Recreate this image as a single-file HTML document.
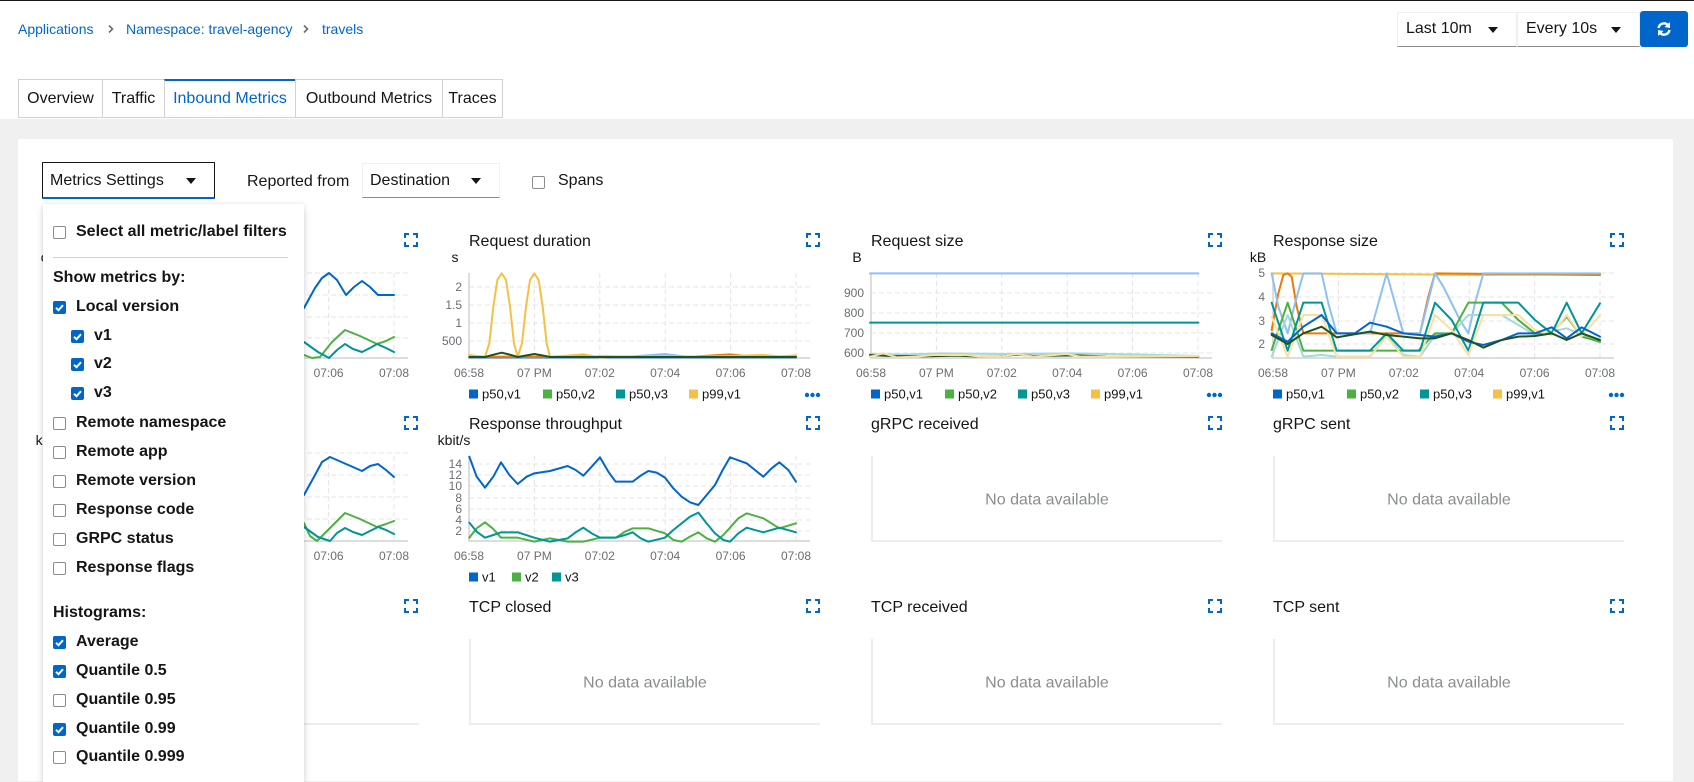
<!DOCTYPE html>
<html><head><meta charset="utf-8">
<style>
*{margin:0;padding:0;box-sizing:border-box}
html,body{width:1694px;height:782px;overflow:hidden;background:#fff;font-family:"Liberation Sans",sans-serif;color:#151515}
body{position:relative}
.a{position:absolute}
.t{position:absolute;white-space:nowrap;line-height:20px;height:20px}
.cb{position:absolute;width:13px;height:13px;border:1px solid #8a8d90;border-radius:2px;background:#fff}
.caret{position:absolute;width:0;height:0;border-left:5px solid transparent;border-right:5px solid transparent;border-top:6px solid #151515}
.tab{position:absolute;top:79px;height:39px;border:1px solid #d2d2d2;font-size:16px;line-height:37px;text-align:center;color:#151515;background:#fff}
.pi{position:absolute;white-space:nowrap;font-size:16px;font-weight:bold;line-height:20px;height:20px;color:#151515}
</style></head><body>

<div class="a" style="left:0;top:0;width:1694px;height:1px;background:#151515"></div>

<!-- breadcrumb -->
<div class="t" style="left:18px;top:19px;font-size:14px;color:#06c">Applications</div>
<svg class="a" style="left:106px;top:24px" width="10" height="10"><path d="M3 1.5 L6.5 5 L3 8.5" stroke="#6a6e73" stroke-width="1.6" fill="none"/></svg>
<div class="t" style="left:126px;top:19px;font-size:14px;color:#06c">Namespace: travel-agency</div>
<svg class="a" style="left:301px;top:24px" width="10" height="10"><path d="M3 1.5 L6.5 5 L3 8.5" stroke="#6a6e73" stroke-width="1.6" fill="none"/></svg>
<div class="t" style="left:322px;top:19px;font-size:14px;color:#06c">travels</div>

<!-- toolbar -->
<div class="a" style="left:1397px;top:12px;width:120px;height:35px;border:1px solid #f0f0f0;border-bottom-color:#8a8d90"></div>
<div class="t" style="left:1406px;top:19px;font-size:16px">Last 10m</div>
<div class="caret" style="left:1488px;top:27px"></div>
<div class="a" style="left:1517px;top:12px;width:123px;height:35px;border:1px solid #f0f0f0;border-bottom-color:#8a8d90"></div>
<div class="t" style="left:1526px;top:19px;font-size:16px">Every 10s</div>
<div class="caret" style="left:1611px;top:27px"></div>
<div class="a" style="left:1640px;top:11px;width:48px;height:36px;background:#06c;border-radius:3px"></div>
<svg class="a" style="left:1656px;top:21px" width="16" height="16">
<path d="M2.5 7 A5.5 5.5 0 0 1 12 4.2" stroke="#fff" stroke-width="2.4" fill="none"/>
<path d="M14 1 L14 7 L8.5 6 Z" fill="#fff"/>
<path d="M13.5 9 A5.5 5.5 0 0 1 4 11.8" stroke="#fff" stroke-width="2.4" fill="none"/>
<path d="M2 15 L2 9 L7.5 10 Z" fill="#fff"/>
</svg>

<!-- gray bg + card -->
<div class="a" style="left:0;top:119px;width:1694px;height:663px;background:#f0f0f0"></div>
<div class="a" style="left:18px;top:139px;width:1655px;height:642px;background:#fff"></div>

<!-- tabs -->
<div class="tab" style="left:18px;width:85px">Overview</div>
<div class="tab" style="left:102px;width:63px">Traffic</div>
<div class="tab" style="left:164px;width:132px;color:#06c;border-top:2px solid #06c;line-height:36px">Inbound Metrics</div>
<div class="tab" style="left:295px;width:148px">Outbound Metrics</div>
<div class="tab" style="left:442px;width:61px">Traces</div>

<!-- controls -->
<div class="a" style="left:42px;top:162px;width:173px;height:37px;border:1px solid #151515;border-bottom:2px solid #06c;border-radius:1px"></div>
<div class="t" style="left:50px;top:171px;font-size:16px">Metrics Settings</div>
<div class="caret" style="left:186px;top:178px"></div>
<div class="t" style="left:247px;top:172px;font-size:16px">Reported from</div>
<div class="a" style="left:362px;top:163px;width:138px;height:35px;border:1px solid #f0f0f0;border-bottom-color:#8a8d90"></div>
<div class="t" style="left:370px;top:171px;font-size:16px">Destination</div>
<div class="caret" style="left:471px;top:178px"></div>
<div class="cb" style="left:532px;top:176px"></div>
<div class="t" style="left:558px;top:171px;font-size:16px">Spans</div>

<!-- charts -->
<svg class="a" style="left:0;top:0" width="1694" height="782" font-family="Liberation Sans, sans-serif">
<defs>
<g id="exp" fill="none" stroke="#06c" stroke-width="2">
<path d="M1 5 V1 H5"/><path d="M9 1 H13 V5"/><path d="M1 9 V13 H5"/><path d="M9 13 H13 V9"/>
</g>
</defs>

<!-- titles -->
<g font-size="16" fill="#151515">
<text x="67" y="246">Request volume</text>
<text x="469" y="246">Request duration</text>
<text x="871" y="246">Request size</text>
<text x="1273" y="246">Response size</text>
<text x="67" y="429">Request throughput</text>
<text x="469" y="429">Response throughput</text>
<text x="871" y="429">gRPC received</text>
<text x="1273" y="429">gRPC sent</text>
<text x="67" y="612">TCP opened</text>
<text x="469" y="612">TCP closed</text>
<text x="871" y="612">TCP received</text>
<text x="1273" y="612">TCP sent</text>
</g>
<!-- expand icons -->
<use href="#exp" x="404" y="233"/><use href="#exp" x="806" y="233"/><use href="#exp" x="1208" y="233"/><use href="#exp" x="1610" y="233"/>
<use href="#exp" x="404" y="416"/><use href="#exp" x="806" y="416"/><use href="#exp" x="1208" y="416"/><use href="#exp" x="1610" y="416"/>
<use href="#exp" x="404" y="599"/><use href="#exp" x="806" y="599"/><use href="#exp" x="1208" y="599"/><use href="#exp" x="1610" y="599"/>

<!-- units -->
<g font-size="14" fill="#151515" text-anchor="middle">
<text x="52" y="262">ops</text>
<text x="455" y="262">s</text>
<text x="857" y="262">B</text>
<text x="1258" y="262">kB</text>
<text x="52" y="445">kbit/s</text>
<text x="454" y="445">kbit/s</text>
</g>

<!-- grids -->
<g stroke="#e4e4e4" stroke-width="1" stroke-dasharray="5,3" fill="none">
<path d="M67 273H408M67 295H408M67 317H408M67 338H408"/>
<path d="M132.4 273V358M197.8 273V358M263.2 273V358M328.6 273V358M394 273V358"/>
<path d="M469 287H810M469 305H810M469 323H810M469 341H810"/>
<path d="M534.4 273V358M599.8 273V358M665.2 273V358M730.6 273V358M796 273V358"/>
<path d="M871 293H1212M871 313H1212M871 333H1212M871 353H1212"/>
<path d="M936.4 273V358M1001.8 273V358M1067.2 273V358M1132.6 273V358M1198 273V358"/>
<path d="M1273 273H1614M1273 297H1614M1273 321H1614M1273 344H1614"/>
<path d="M1338.4 273V358M1403.8 273V358M1469.2 273V358M1534.6 273V358M1600 273V358"/>
<path d="M67 453H408M67 475H408M67 497H408M67 519H408"/>
<path d="M132.4 456V541M197.8 456V541M263.2 456V541M328.6 456V541M394 456V541"/>
<path d="M469 464H810M469 475H810M469 486H810M469 498H810M469 509H810M469 520H810M469 531H810"/>
<path d="M534.4 456V541M599.8 456V541M665.2 456V541M730.6 456V541M796 456V541"/>
</g>
<!-- axes -->
<g stroke="#d2d2d2" stroke-width="1.5" fill="none">
<path d="M67 273V358H408"/><path d="M469 273V358H810"/><path d="M871 273V358H1212"/><path d="M1273 273V358H1614"/>
<path d="M67 456V541H408"/><path d="M469 456V541H810"/>
</g>

<!-- x tick labels -->
<g font-size="12" fill="#6a6e73" text-anchor="middle">
<text x="67" y="377">06:58</text><text x="132.4" y="377">07 PM</text><text x="197.8" y="377">07:02</text><text x="263.2" y="377">07:04</text><text x="328.6" y="377">07:06</text><text x="394" y="377">07:08</text>
<text x="469" y="377">06:58</text><text x="534.4" y="377">07 PM</text><text x="599.8" y="377">07:02</text><text x="665.2" y="377">07:04</text><text x="730.6" y="377">07:06</text><text x="796" y="377">07:08</text>
<text x="871" y="377">06:58</text><text x="936.4" y="377">07 PM</text><text x="1001.8" y="377">07:02</text><text x="1067.2" y="377">07:04</text><text x="1132.6" y="377">07:06</text><text x="1198" y="377">07:08</text>
<text x="1273" y="377">06:58</text><text x="1338.4" y="377">07 PM</text><text x="1403.8" y="377">07:02</text><text x="1469.2" y="377">07:04</text><text x="1534.6" y="377">07:06</text><text x="1600" y="377">07:08</text>
<text x="67" y="560">06:58</text><text x="132.4" y="560">07 PM</text><text x="197.8" y="560">07:02</text><text x="263.2" y="560">07:04</text><text x="328.6" y="560">07:06</text><text x="394" y="560">07:08</text>
<text x="469" y="560">06:58</text><text x="534.4" y="560">07 PM</text><text x="599.8" y="560">07:02</text><text x="665.2" y="560">07:04</text><text x="730.6" y="560">07:06</text><text x="796" y="560">07:08</text>
</g>
<!-- y labels -->
<g font-size="12" fill="#6a6e73" text-anchor="end">
<text x="462" y="291">2</text><text x="462" y="309">1.5</text><text x="462" y="327">1</text><text x="462" y="345">500</text>
<text x="864" y="297">900</text><text x="864" y="317">800</text><text x="864" y="337">700</text><text x="864" y="357">600</text>
<text x="1265" y="277">5</text><text x="1265" y="301">4</text><text x="1265" y="325">3</text><text x="1265" y="348">2</text>
<text x="462" y="468">14</text><text x="462" y="479">12</text><text x="462" y="490">10</text><text x="462" y="502">8</text><text x="462" y="513">6</text><text x="462" y="524">4</text><text x="462" y="535">2</text>
</g>

<!-- data: col1 row1 -->
<g fill="none" stroke-width="2" stroke-linejoin="round" stroke-linecap="round">
<polyline stroke="#06c" points="200,330 280,330 304,308 315,288 322,278 329,273 337,280 346,295 354,287 362,281 370,287 378,295 394,295"/>
<polyline stroke="#4cb140" points="200,345 280,345 304,355 312,358 320,357 332,342 345,330 360,336 377,344 386,341 394,337"/>
<polyline stroke="#009596" points="200,335 280,335 304,342 318,352 329,358 337,350 345,344 353,349 362,352 370,348 377,344 386,348 394,352"/>
<polyline stroke="#06c" points="200,515 280,512 304,495 315,475 322,462 330,457 346,464 362,471 370,466 378,464 386,470 394,477"/>
<polyline stroke="#4cb140" points="200,515 280,512 304,523 310,536 317,541 330,528 345,513 360,519 377,527 386,524 394,521"/>
<polyline stroke="#009596" points="200,520 280,520 304,527 318,537 330,541 337,533 345,528 353,532 362,535 370,531 378,527 386,530 394,534"/>
</g>

<!-- col2 row1: Request duration -->
<g transform="translate(430 220) scale(0.33333)" fill="none" stroke-width="6" stroke-linejoin="round" stroke-linecap="round">
<polyline stroke="#06c" points="118,412 1098,412"/>
<polyline stroke="#8bc1f7" points="118,410 600,410 650,406 705,402 760,409 1098,410"/>
<polyline stroke="#ec7a08" points="118,410 300,411 500,410 800,409 850,406 900,403 950,408 1098,410"/>
<polyline stroke="#f4c145" points="118,405 140,408 165,410 178,370 190,260 202,180 215,160 228,180 240,260 252,370 263,410 276,370 288,260 300,180 313,160 326,180 338,260 350,370 360,410 400,408 460,403 510,412 560,410 610,410 705,408 800,410 900,408 1000,405 1050,409 1098,406"/>
<polyline stroke="#23511e" points="118,411 165,411 190,404 215,398 240,404 263,411 290,406 313,402 336,406 360,411 1098,411"/>
</g>

<!-- col3 row1: Request size -->
<g transform="translate(840 220) scale(0.33333)" fill="none" stroke-width="6" stroke-linejoin="round" stroke-linecap="round">
<polyline stroke="#8bc1f7" points="90,160 1075,160"/>
<polyline stroke="#009596" points="90,308 1075,308"/>
<polyline stroke="#a2d9d9" points="90,402 200,404 300,400 500,402 700,400 900,404 1075,408"/>
<polyline stroke="#23511e" points="90,405 150,408 250,409 350,407 420,410 480,409 530,404 580,408 700,406 800,409 1075,410"/>
<polyline stroke="#f9e0a2" points="90,410 130,400 170,412 230,410 280,405 380,405 420,410 480,410 530,402 580,410 680,402 720,410 1075,408"/>
</g>

<!-- col4 row1: Response size -->
<g transform="translate(1245 220) scale(0.33333)" fill="none" stroke-width="6" stroke-linejoin="round" stroke-linecap="round">
<polyline stroke="#f4c145" points="80,160 500,163 700,165 1065,162"/>
<polyline stroke="#ec7a08" points="80,330 100,220 115,165 128,160 140,170 155,260 175,340 275,340 470,340 525,340 550,230 570,160 1065,165"/>
<polyline stroke="#8bc1f7" points="80,160 100,260 128,340 150,250 175,160 230,160 250,250 275,340 375,340 400,250 425,160 450,250 475,340 525,340 548,250 570,160 595,200 620,250 645,300 670,340 690,250 715,160 1065,160"/>
<polyline stroke="#a2d9d9" points="80,410 128,285 175,410 230,405 275,410 375,410 425,345 475,405 525,410 570,345 620,340 670,285 770,285 870,345 965,325 1065,368"/>
<polyline stroke="#4cb140" points="80,390 128,248 175,392 275,392 375,392 425,392 520,392 570,340 620,340 670,248 715,248 770,248 820,300 870,340 920,340 965,290 1010,350 1065,365"/>
<polyline stroke="#009596" points="80,248 128,392 175,248 230,248 275,392 375,392 425,340 475,392 525,392 570,248 620,300 670,392 715,248 820,248 870,300 920,340 965,248 1010,340 1065,250"/>
<polyline stroke="#f9e0a2" points="80,290 128,410 175,285 230,285 275,410 375,410 425,350 475,410 525,410 570,285 620,330 670,405 715,285 820,285 870,330 920,345 965,285 1010,350 1065,285"/>
<polyline stroke="#06c" points="80,340 128,365 175,320 230,285 275,340 330,340 375,308 425,320 475,340 525,345 570,350 620,340 670,365 715,375 770,360 820,340 870,340 920,322 965,355 1010,322 1065,350"/>
<polyline stroke="#23511e" points="80,345 128,372 175,340 230,320 275,352 375,335 425,345 475,350 525,355 570,355 620,340 670,360 715,383 770,360 820,350 870,348 920,340 965,360 1010,340 1065,360"/>
</g>

<!-- col2 row2: Response throughput -->
<g transform="translate(430 405) scale(0.33333)" fill="none" stroke-width="6" stroke-linejoin="round" stroke-linecap="round">
<polyline stroke="#06c" points="118,155 140,215 165,248 190,215 213,172 238,210 263,237 290,215 313,205 360,198 413,183 437,195 460,212 485,185 510,157 535,200 557,230 608,230 632,212 655,198 680,203 705,218 730,250 755,275 780,292 805,300 830,270 855,240 878,195 900,157 950,175 975,195 1000,215 1025,190 1048,172 1075,195 1098,230"/>
<polyline stroke="#4cb140" points="118,398 140,370 165,352 190,372 213,398 263,398 313,410 360,400 413,410 460,410 510,398 557,398 585,380 608,370 655,370 705,385 730,405 755,410 780,395 805,382 830,400 855,410 880,390 900,368 925,340 950,325 1000,340 1048,370 1098,355"/>
<polyline stroke="#009596" points="118,353 140,380 165,398 190,390 213,382 263,382 313,398 360,410 413,400 437,382 460,368 485,385 510,398 557,398 585,390 608,382 632,400 655,410 705,398 730,375 755,355 780,335 805,323 830,355 855,385 880,405 900,410 925,385 950,368 1000,382 1048,368 1098,382"/>
</g>

<!-- legends -->
<g font-size="13" fill="#151515">
<rect x="469" y="389.5" width="9" height="9" fill="#06c"/><text x="482" y="398.5">p50,v1</text>
<rect x="543" y="389.5" width="9" height="9" fill="#4cb140"/><text x="556" y="398.5">p50,v2</text>
<rect x="616" y="389.5" width="9" height="9" fill="#009596"/><text x="629" y="398.5">p50,v3</text>
<rect x="689" y="389.5" width="9" height="9" fill="#f4c145"/><text x="702" y="398.5">p99,v1</text>
<rect x="871" y="389.5" width="9" height="9" fill="#06c"/><text x="884" y="398.5">p50,v1</text>
<rect x="945" y="389.5" width="9" height="9" fill="#4cb140"/><text x="958" y="398.5">p50,v2</text>
<rect x="1018" y="389.5" width="9" height="9" fill="#009596"/><text x="1031" y="398.5">p50,v3</text>
<rect x="1091" y="389.5" width="9" height="9" fill="#f4c145"/><text x="1104" y="398.5">p99,v1</text>
<rect x="1273" y="389.5" width="9" height="9" fill="#06c"/><text x="1286" y="398.5">p50,v1</text>
<rect x="1347" y="389.5" width="9" height="9" fill="#4cb140"/><text x="1360" y="398.5">p50,v2</text>
<rect x="1420" y="389.5" width="9" height="9" fill="#009596"/><text x="1433" y="398.5">p50,v3</text>
<rect x="1493" y="389.5" width="9" height="9" fill="#f4c145"/><text x="1506" y="398.5">p99,v1</text>
<rect x="469" y="572.5" width="9" height="9" fill="#06c"/><text x="482" y="581.5">v1</text>
<rect x="512" y="572.5" width="9" height="9" fill="#4cb140"/><text x="525" y="581.5">v2</text>
<rect x="552" y="572.5" width="9" height="9" fill="#009596"/><text x="565" y="581.5">v3</text>
</g>
<g fill="#06c">
<circle cx="807" cy="395" r="2.2"/><circle cx="812.5" cy="395" r="2.2"/><circle cx="818" cy="395" r="2.2"/>
<circle cx="1209" cy="395" r="2.2"/><circle cx="1214.5" cy="395" r="2.2"/><circle cx="1220" cy="395" r="2.2"/>
<circle cx="1611" cy="395" r="2.2"/><circle cx="1616.5" cy="395" r="2.2"/><circle cx="1622" cy="395" r="2.2"/>
</g>

<!-- no data boxes -->
<g fill="#ebeef1">
<rect x="871" y="456" width="2" height="86"/><rect x="871" y="540" width="351" height="2"/>
<rect x="1273" y="456" width="2" height="86"/><rect x="1273" y="540" width="351" height="2"/>
<rect x="67" y="639" width="2" height="86"/><rect x="67" y="723" width="352" height="2"/>
<rect x="469" y="639" width="2" height="86"/><rect x="469" y="723" width="351" height="2"/>
<rect x="871" y="639" width="2" height="86"/><rect x="871" y="723" width="351" height="2"/>
<rect x="1273" y="639" width="2" height="86"/><rect x="1273" y="723" width="351" height="2"/>
</g>
<g font-size="16" fill="#8a8d90" text-anchor="middle">
<text x="1047" y="504.5">No data available</text>
<text x="1449" y="504.5">No data available</text>
<text x="243" y="687.5">No data available</text>
<text x="645" y="687.5">No data available</text>
<text x="1047" y="687.5">No data available</text>
<text x="1449" y="687.5">No data available</text>
</g>
</svg>

<!-- dropdown panel -->
<div class="a" style="left:43px;top:204px;width:261px;height:578px;background:#fff;box-shadow:0 4px 8px 0 rgba(3,3,3,.14),0 0 4px 0 rgba(3,3,3,.08)"></div>
<div class="cb" style="left:53px;top:226px"></div><div class="pi" style="left:76px;top:222px">Select all metric/label filters</div>
<div class="a" style="left:53px;top:257px;width:235px;height:1px;background:#d2d2d2"></div>
<div class="pi" style="left:53px;top:268px">Show metrics by:</div>

<svg class="a" style="left:53px;top:301px" width="13" height="13"><rect width="13" height="13" rx="2" fill="#06c"/><path d="M3 6.8 L5.5 9.2 L10 4.2" stroke="#fff" stroke-width="2" fill="none"/></svg>
<div class="pi" style="left:76px;top:297px">Local version</div>
<svg class="a" style="left:71px;top:330px" width="13" height="13"><rect width="13" height="13" rx="2" fill="#06c"/><path d="M3 6.8 L5.5 9.2 L10 4.2" stroke="#fff" stroke-width="2" fill="none"/></svg>
<div class="pi" style="left:94px;top:326px">v1</div>
<svg class="a" style="left:71px;top:358px" width="13" height="13"><rect width="13" height="13" rx="2" fill="#06c"/><path d="M3 6.8 L5.5 9.2 L10 4.2" stroke="#fff" stroke-width="2" fill="none"/></svg>
<div class="pi" style="left:94px;top:354px">v2</div>
<svg class="a" style="left:71px;top:387px" width="13" height="13"><rect width="13" height="13" rx="2" fill="#06c"/><path d="M3 6.8 L5.5 9.2 L10 4.2" stroke="#fff" stroke-width="2" fill="none"/></svg>
<div class="pi" style="left:94px;top:383px">v3</div>

<div class="cb" style="left:53px;top:417px"></div><div class="pi" style="left:76px;top:413px">Remote namespace</div>
<div class="cb" style="left:53px;top:446px"></div><div class="pi" style="left:76px;top:442px">Remote app</div>
<div class="cb" style="left:53px;top:475px"></div><div class="pi" style="left:76px;top:471px">Remote version</div>
<div class="cb" style="left:53px;top:504px"></div><div class="pi" style="left:76px;top:500px">Response code</div>
<div class="cb" style="left:53px;top:533px"></div><div class="pi" style="left:76px;top:529px">GRPC status</div>
<div class="cb" style="left:53px;top:562px"></div><div class="pi" style="left:76px;top:558px">Response flags</div>

<div class="pi" style="left:53px;top:603px">Histograms:</div>
<svg class="a" style="left:53px;top:636px" width="13" height="13"><rect width="13" height="13" rx="2" fill="#06c"/><path d="M3 6.8 L5.5 9.2 L10 4.2" stroke="#fff" stroke-width="2" fill="none"/></svg>
<div class="pi" style="left:76px;top:632px">Average</div>
<svg class="a" style="left:53px;top:665px" width="13" height="13"><rect width="13" height="13" rx="2" fill="#06c"/><path d="M3 6.8 L5.5 9.2 L10 4.2" stroke="#fff" stroke-width="2" fill="none"/></svg>
<div class="pi" style="left:76px;top:661px">Quantile 0.5</div>
<div class="cb" style="left:53px;top:694px"></div><div class="pi" style="left:76px;top:690px">Quantile 0.95</div>
<svg class="a" style="left:53px;top:723px" width="13" height="13"><rect width="13" height="13" rx="2" fill="#06c"/><path d="M3 6.8 L5.5 9.2 L10 4.2" stroke="#fff" stroke-width="2" fill="none"/></svg>
<div class="pi" style="left:76px;top:719px">Quantile 0.99</div>
<div class="cb" style="left:53px;top:751px"></div><div class="pi" style="left:76px;top:747px">Quantile 0.999</div>

</body></html>
